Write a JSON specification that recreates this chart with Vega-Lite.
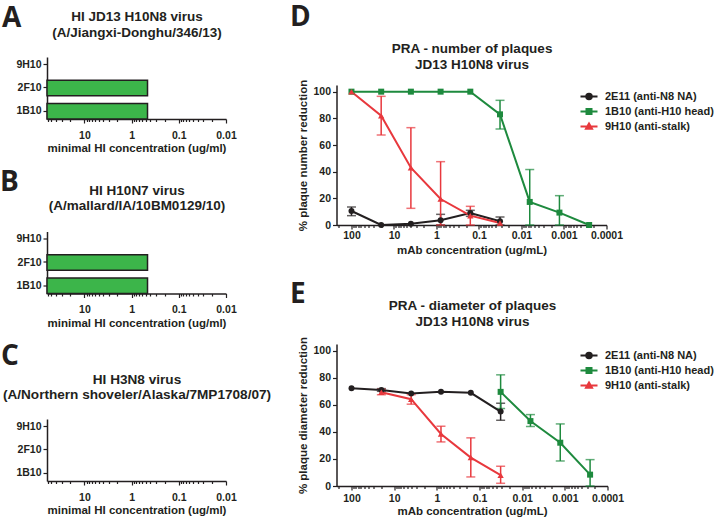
{
  "$schema": "https://vega.github.io/schema/vega-lite/v6.json",
  "background": "white",
  "padding": 0,
  "config": {
    "font": "Liberation Sans",
    "view": {"stroke": null},
    "axis": {"domainColor": "#231F20", "domainWidth": 1.5, "tickColor": "#231F20", "tickWidth": 1.2, "tickSize": 4, "labelColor": "#231F20", "labelFont": "Liberation Sans", "labelFontSize": 10.5, "labelFontWeight": "bold", "titleColor": "#231F20", "titleFont": "Liberation Sans", "titleFontSize": 11.5, "titleFontWeight": "bold", "grid": false, "labelPadding": 2, "labelOverlap": false, "labelFlush": false},
    "title": {"font": "Open Sans", "fontSize": 28, "fontWeight": "bold", "color": "#231F20", "anchor": "start", "frame": "bounds", "baseline": "alphabetic"},
    "legend": {"title": null, "orient": "none", "symbolSize": 100, "labelOffset": 10, "rowPadding": 1, "labelFont": "Liberation Sans", "labelFontSize": 11, "labelFontWeight": "bold", "labelColor": "#231F20", "symbolStrokeWidth": 2}
  },
  "datasets": {
    "spacer": [{}],
    "hiA": [{"mab": "9H10", "minHI": null}, {"mab": "2F10", "minHI": 0.46}, {"mab": "1B10", "minHI": 0.46}],
    "hiB": [{"mab": "9H10", "minHI": null}, {"mab": "2F10", "minHI": 0.46}, {"mab": "1B10", "minHI": 0.46}],
    "hiC": [{"mab": "9H10", "minHI": null}, {"mab": "2F10", "minHI": null}, {"mab": "1B10", "minHI": null}],
    "plaqueNumber": [
      {"mab": "2E11 (anti-N8 NA)", "conc": 100, "mean": 10.5, "lo": 7, "hi": 13.5},
      {"mab": "2E11 (anti-N8 NA)", "conc": 20, "mean": 0, "lo": null, "hi": null},
      {"mab": "2E11 (anti-N8 NA)", "conc": 4, "mean": 1, "lo": null, "hi": null},
      {"mab": "2E11 (anti-N8 NA)", "conc": 0.8, "mean": 3.5, "lo": 0, "hi": 8},
      {"mab": "2E11 (anti-N8 NA)", "conc": 0.16, "mean": 9, "lo": 6.5, "hi": 11},
      {"mab": "2E11 (anti-N8 NA)", "conc": 0.032, "mean": 2.8, "lo": 0, "hi": 6},
      {"mab": "1B10 (anti-H10 head)", "conc": 100, "mean": 100, "lo": null, "hi": null},
      {"mab": "1B10 (anti-H10 head)", "conc": 20, "mean": 100, "lo": null, "hi": null},
      {"mab": "1B10 (anti-H10 head)", "conc": 4, "mean": 100, "lo": null, "hi": null},
      {"mab": "1B10 (anti-H10 head)", "conc": 0.8, "mean": 100, "lo": null, "hi": null},
      {"mab": "1B10 (anti-H10 head)", "conc": 0.16, "mean": 100, "lo": null, "hi": null},
      {"mab": "1B10 (anti-H10 head)", "conc": 0.032, "mean": 83, "lo": 72, "hi": 93.5},
      {"mab": "1B10 (anti-H10 head)", "conc": 0.0064, "mean": 17.3, "lo": 0, "hi": 41.6},
      {"mab": "1B10 (anti-H10 head)", "conc": 0.00128, "mean": 9.3, "lo": 0, "hi": 22},
      {"mab": "1B10 (anti-H10 head)", "conc": 0.000256, "mean": 0, "lo": null, "hi": null},
      {"mab": "9H10 (anti-stalk)", "conc": 100, "mean": 100, "lo": null, "hi": null},
      {"mab": "9H10 (anti-stalk)", "conc": 20, "mean": 82, "lo": 67.5, "hi": 96.5},
      {"mab": "9H10 (anti-stalk)", "conc": 4, "mean": 43, "lo": 12.5, "hi": 73},
      {"mab": "9H10 (anti-stalk)", "conc": 0.8, "mean": 19.5, "lo": 0, "hi": 47.5},
      {"mab": "9H10 (anti-stalk)", "conc": 0.16, "mean": 7, "lo": 0, "hi": 14},
      {"mab": "9H10 (anti-stalk)", "conc": 0.032, "mean": 1.5, "lo": null, "hi": null}
    ],
    "plaqueDiameter": [
      {"mab": "2E11 (anti-N8 NA)", "conc": 100, "mean": 72.3, "lo": null, "hi": null},
      {"mab": "2E11 (anti-N8 NA)", "conc": 20, "mean": 71, "lo": 70, "hi": 72},
      {"mab": "2E11 (anti-N8 NA)", "conc": 4, "mean": 68.4, "lo": null, "hi": null},
      {"mab": "2E11 (anti-N8 NA)", "conc": 0.8, "mean": 69.6, "lo": null, "hi": null},
      {"mab": "2E11 (anti-N8 NA)", "conc": 0.16, "mean": 68.9, "lo": null, "hi": null},
      {"mab": "2E11 (anti-N8 NA)", "conc": 0.032, "mean": 55, "lo": 48.6, "hi": 61.2},
      {"mab": "1B10 (anti-H10 head)", "conc": 0.032, "mean": 69.6, "lo": 57.3, "hi": 82.2},
      {"mab": "1B10 (anti-H10 head)", "conc": 0.0064, "mean": 48, "lo": 44, "hi": 52.8},
      {"mab": "1B10 (anti-H10 head)", "conc": 0.00128, "mean": 32, "lo": 18.5, "hi": 45.9},
      {"mab": "1B10 (anti-H10 head)", "conc": 0.000256, "mean": 8.4, "lo": 0, "hi": 19.5},
      {"mab": "9H10 (anti-stalk)", "conc": 20, "mean": 69.3, "lo": 67.5, "hi": 71.5},
      {"mab": "9H10 (anti-stalk)", "conc": 4, "mean": 64.2, "lo": 60.5, "hi": 67.5},
      {"mab": "9H10 (anti-stalk)", "conc": 0.8, "mean": 38.5, "lo": 32.6, "hi": 44.2},
      {"mab": "9H10 (anti-stalk)", "conc": 0.16, "mean": 21, "lo": 6.7, "hi": 35.6},
      {"mab": "9H10 (anti-stalk)", "conc": 0.032, "mean": 8, "lo": 2, "hi": 14.6}
    ]
  },
  "spacing": 18.5,
  "hconcat": [
    {
      "spacing": 0,
      "vconcat": [
        {"width": 10, "height": 5, "data": {"name": "spacer"}, "mark": {"type": "point", "size": 0, "opacity": 0}, "encoding": {}},
        {
          "spacing": 14.5,
          "vconcat": [
            {
              "width": 179, "height": 62,
              "data": {"name": "hiA"},
              "title": {"text": "A", "offset": -23.8, "dx": -14},
              "resolve": {"axis": {"x": "independent"}},
              "encoding": {"y": {"field": "mab", "type": "nominal", "scale": {"domain": ["9H10", "2F10", "1B10"], "paddingInner": 0.34, "paddingOuter": 0, "align": 0}, "axis": {"title": null, "labelPadding": 2}}},
              "layer": [
                {"mark": {"type": "bar", "fill": "#3CB54A", "stroke": "#231F20", "strokeWidth": 1.5},
                 "encoding": {"x": {"field": "minHI", "type": "quantitative", "scale": {"type": "log", "domain": [0.01, 62], "reverse": true, "nice": false}, "axis": {"title": "minimal HI concentration (ug/ml)", "values": [60,50,40,30,20,10,9,8,7,6,5,4,3,2,1,0.9,0.8,0.7,0.6,0.5,0.4,0.3,0.2,0.1,0.09,0.08,0.07,0.06,0.05,0.04,0.03,0.02,0.01], "format": "~g", "labelExpr": "indexof([100,10,1,0.1,0.01,0.001,0.0001], datum.value) >= 0 ? datum.label : ''", "tickSize": {"condition": {"test": "indexof([100,10,1,0.1,0.01,0.001,0.0001], datum.value) >= 0", "value": 4}, "value": 2.5}, "labelPadding": 7, "titlePadding": 2}}, "x2": {"datum": 62}}},
                {"mark": {"type": "bar", "opacity": 0},
                 "encoding": {"x": {"field": "minHI", "type": "quantitative", "scale": {"type": "log", "domain": [0.01, 62], "reverse": true, "nice": false}, "axis": {"orient": "top", "domain": false, "ticks": false, "labels": false, "title": ["HI JD13 H10N8 virus", "(A/Jiangxi-Donghu/346/13)"], "titleFontSize": 13.5, "titleLineHeight": 15.5, "titlePadding": 18}}, "x2": {"datum": 62}}}
              ]
            },
            {
              "width": 179, "height": 62,
              "data": {"name": "hiB"},
              "title": {"text": "B", "offset": -13.8, "dx": -15.8},
              "resolve": {"axis": {"x": "independent"}},
              "encoding": {"y": {"field": "mab", "type": "nominal", "scale": {"domain": ["9H10", "2F10", "1B10"], "paddingInner": 0.34, "paddingOuter": 0, "align": 0}, "axis": {"title": null, "labelPadding": 2}}},
              "layer": [
                {"mark": {"type": "bar", "fill": "#3CB54A", "stroke": "#231F20", "strokeWidth": 1.5},
                 "encoding": {"x": {"field": "minHI", "type": "quantitative", "scale": {"type": "log", "domain": [0.01, 62], "reverse": true, "nice": false}, "axis": {"title": "minimal HI concentration (ug/ml)", "values": [60,50,40,30,20,10,9,8,7,6,5,4,3,2,1,0.9,0.8,0.7,0.6,0.5,0.4,0.3,0.2,0.1,0.09,0.08,0.07,0.06,0.05,0.04,0.03,0.02,0.01], "format": "~g", "labelExpr": "indexof([100,10,1,0.1,0.01,0.001,0.0001], datum.value) >= 0 ? datum.label : ''", "tickSize": {"condition": {"test": "indexof([100,10,1,0.1,0.01,0.001,0.0001], datum.value) >= 0", "value": 4}, "value": 2.5}, "labelPadding": 7, "titlePadding": 2}}, "x2": {"datum": 62}}},
                {"mark": {"type": "bar", "opacity": 0},
                 "encoding": {"x": {"field": "minHI", "type": "quantitative", "scale": {"type": "log", "domain": [0.01, 62], "reverse": true, "nice": false}, "axis": {"orient": "top", "domain": false, "ticks": false, "labels": false, "title": ["HI H10N7 virus", "(A/mallard/IA/10BM0129/10)"], "titleFontSize": 13.5, "titleLineHeight": 15.5, "titlePadding": 19}}, "x2": {"datum": 62}}}
              ]
            },
            {
              "width": 179, "height": 62,
              "data": {"name": "hiC"},
              "title": {"text": "C", "offset": 1, "dx": -1.3},
              "resolve": {"axis": {"x": "independent"}},
              "encoding": {"y": {"field": "mab", "type": "nominal", "scale": {"domain": ["9H10", "2F10", "1B10"], "paddingInner": 0.34, "paddingOuter": 0, "align": 0}, "axis": {"title": null, "labelPadding": 2}}},
              "layer": [
                {"mark": {"type": "bar", "fill": "#3CB54A", "stroke": "#231F20", "strokeWidth": 1.5},
                 "encoding": {"x": {"field": "minHI", "type": "quantitative", "scale": {"type": "log", "domain": [0.01, 62], "reverse": true, "nice": false}, "axis": {"title": "minimal HI concentration (ug/ml)", "values": [60,50,40,30,20,10,9,8,7,6,5,4,3,2,1,0.9,0.8,0.7,0.6,0.5,0.4,0.3,0.2,0.1,0.09,0.08,0.07,0.06,0.05,0.04,0.03,0.02,0.01], "format": "~g", "labelExpr": "indexof([100,10,1,0.1,0.01,0.001,0.0001], datum.value) >= 0 ? datum.label : ''", "tickSize": {"condition": {"test": "indexof([100,10,1,0.1,0.01,0.001,0.0001], datum.value) >= 0", "value": 4}, "value": 2.5}, "labelPadding": 7, "titlePadding": 2}}, "x2": {"datum": 62}}},
                {"mark": {"type": "bar", "opacity": 0},
                 "encoding": {"x": {"field": "minHI", "type": "quantitative", "scale": {"type": "log", "domain": [0.01, 62], "reverse": true, "nice": false}, "axis": {"orient": "top", "domain": false, "ticks": false, "labels": false, "title": ["HI H3N8 virus", "(A/Northern shoveler/Alaska/7MP1708/07)"], "titleFontSize": 13.6, "titleLineHeight": 15.5, "titlePadding": 17.5}}, "x2": {"datum": 62}}}
              ]
            }
          ]
        }
      ]
    },
    {
      "spacing": 0,
      "vconcat": [
        {"width": 10, "height": 3, "data": {"name": "spacer"}, "mark": {"type": "point", "size": 0, "opacity": 0}, "encoding": {}},
        {
          "spacing": 24,
          "resolve": {"scale": {"color": "independent"}, "legend": {"color": "independent"}},
          "vconcat": [
            {
              "width": 270, "height": 140,
              "data": {"name": "plaqueNumber"},
              "title": {"text": "D", "offset": 10, "dx": -8},
              "resolve": {"axis": {"x": "independent"}},
              "encoding": {
                "color": {"field": "mab", "type": "nominal", "scale": {"domain": ["2E11 (anti-N8 NA)", "1B10 (anti-H10 head)", "9H10 (anti-stalk)"], "range": ["#231F20", "#1E8A3E", "#E8383D"]}, "legend": {"legendX": 246.5, "legendY": 5.5, "encode": {"symbols": {"update": {"shape": {"signal": "datum.value === '2E11 (anti-N8 NA)' ? 'M-1.7,0H1.7M-0.55,0A0.55,0.55,0,1,1,0.55,0A0.55,0.55,0,1,1,-0.55,0Z' : datum.value === '1B10 (anti-H10 head)' ? 'M-1.7,0H1.7M-0.5,-0.5H0.5V0.5H-0.5Z' : 'M-1.7,0H1.7M0,-0.6L0.6,0.45H-0.6Z'"}, "stroke": {"signal": "datum.value === '2E11 (anti-N8 NA)' ? '#231F20' : datum.value === '1B10 (anti-H10 head)' ? '#1E8A3E' : '#E8383D'"}, "fill": {"signal": "datum.value === '2E11 (anti-N8 NA)' ? '#231F20' : datum.value === '1B10 (anti-H10 head)' ? '#1E8A3E' : '#E8383D'"}, "strokeWidth": {"value": 2}, "opacity": {"value": 1}}}}}},
                "y": {"field": "mean", "type": "quantitative", "title": "% plaque number reduction", "scale": {"domain": [0, 105], "nice": false}, "axis": {"values": [0, 20, 40, 60, 80, 100], "titlePadding": 4}}
              },
              "layer": [
                {"transform": [{"filter": "isValid(datum.lo)"}], "mark": {"type": "errorbar", "ticks": {"size": 9}, "thickness": 1.5},
                 "encoding": {"x": {"field": "conc", "type": "quantitative", "scale": {"type": "log", "domain": [0.0001, 225], "reverse": true, "nice": false}, "axis": null}, "y": {"field": "lo", "type": "quantitative", "title": "% plaque number reduction", "scale": {"domain": [0, 105], "nice": false}}, "y2": {"field": "hi"}}},
                {"mark": {"type": "line", "strokeWidth": 2},
                 "encoding": {"x": {"field": "conc", "type": "quantitative", "scale": {"type": "log", "domain": [0.0001, 225], "reverse": true, "nice": false}, "axis": {"title": "mAb concentration (ug/mL)", "values": [200,100,90,80,70,60,50,40,30,20,10,9,8,7,6,5,4,3,2,1,0.9,0.8,0.7,0.6,0.5,0.4,0.3,0.2,0.1,0.09,0.08,0.07,0.06,0.05,0.04,0.03,0.02,0.01,0.009,0.008,0.007,0.006,0.005,0.004,0.003,0.002,0.001,0.0009,0.0008,0.0007,0.0006,0.0005,0.0004,0.0003,0.0002,0.0001], "format": "~g", "labelExpr": "indexof([100,10,1,0.1,0.01,0.001,0.0001], datum.value) >= 0 ? datum.label : ''", "tickSize": {"condition": {"test": "indexof([100,10,1,0.1,0.01,0.001,0.0001], datum.value) >= 0", "value": 4}, "value": 2.5}, "labelPadding": 1.5, "titlePadding": 3}}}},
                {"transform": [{"filter": "datum.mab === '2E11 (anti-N8 NA)'"}], "mark": {"type": "point", "shape": "circle", "filled": true, "size": 36, "opacity": 1},
                 "encoding": {"x": {"field": "conc", "type": "quantitative", "scale": {"type": "log", "domain": [0.0001, 225], "reverse": true, "nice": false}, "axis": {"orient": "top", "domain": false, "ticks": false, "labels": false, "title": ["PRA - number of plaques", "JD13 H10N8 virus"], "titleFontSize": 13.5, "titleLineHeight": 15.5, "titlePadding": 13.7}}}},
                {"transform": [{"filter": "datum.mab === '1B10 (anti-H10 head)'"}], "mark": {"type": "point", "shape": "square", "filled": true, "size": 36, "opacity": 1},
                 "encoding": {"x": {"field": "conc", "type": "quantitative", "scale": {"type": "log", "domain": [0.0001, 225], "reverse": true, "nice": false}, "axis": null}}},
                {"transform": [{"filter": "datum.mab === '9H10 (anti-stalk)'"}], "mark": {"type": "point", "shape": "triangle-up", "filled": true, "size": 40, "opacity": 1},
                 "encoding": {"x": {"field": "conc", "type": "quantitative", "scale": {"type": "log", "domain": [0.0001, 225], "reverse": true, "nice": false}, "axis": null}}}
              ]
            },
            {
              "width": 271, "height": 142,
              "data": {"name": "plaqueDiameter"},
              "title": {"text": "E", "offset": -9.8, "dx": -8},
              "resolve": {"axis": {"x": "independent"}},
              "encoding": {
                "color": {"field": "mab", "type": "nominal", "scale": {"domain": ["2E11 (anti-N8 NA)", "1B10 (anti-H10 head)", "9H10 (anti-stalk)"], "range": ["#231F20", "#1E8A3E", "#E8383D"]}, "legend": {"legendX": 246.5, "legendY": 5.5, "encode": {"symbols": {"update": {"shape": {"signal": "datum.value === '2E11 (anti-N8 NA)' ? 'M-1.7,0H1.7M-0.55,0A0.55,0.55,0,1,1,0.55,0A0.55,0.55,0,1,1,-0.55,0Z' : datum.value === '1B10 (anti-H10 head)' ? 'M-1.7,0H1.7M-0.5,-0.5H0.5V0.5H-0.5Z' : 'M-1.7,0H1.7M0,-0.6L0.6,0.45H-0.6Z'"}, "stroke": {"signal": "datum.value === '2E11 (anti-N8 NA)' ? '#231F20' : datum.value === '1B10 (anti-H10 head)' ? '#1E8A3E' : '#E8383D'"}, "fill": {"signal": "datum.value === '2E11 (anti-N8 NA)' ? '#231F20' : datum.value === '1B10 (anti-H10 head)' ? '#1E8A3E' : '#E8383D'"}, "strokeWidth": {"value": 2}, "opacity": {"value": 1}}}}}},
                "y": {"field": "mean", "type": "quantitative", "title": "% plaque diameter reduction", "scale": {"domain": [0, 105], "nice": false}, "axis": {"values": [0, 20, 40, 60, 80, 100], "titlePadding": 4}}
              },
              "layer": [
                {"transform": [{"filter": "isValid(datum.lo)"}], "mark": {"type": "errorbar", "ticks": {"size": 9}, "thickness": 1.5},
                 "encoding": {"x": {"field": "conc", "type": "quantitative", "scale": {"type": "log", "domain": [0.0001, 225], "reverse": true, "nice": false}, "axis": null}, "y": {"field": "lo", "type": "quantitative", "title": "% plaque diameter reduction", "scale": {"domain": [0, 105], "nice": false}}, "y2": {"field": "hi"}}},
                {"mark": {"type": "line", "strokeWidth": 2},
                 "encoding": {"x": {"field": "conc", "type": "quantitative", "scale": {"type": "log", "domain": [0.0001, 225], "reverse": true, "nice": false}, "axis": {"title": "mAb concentration (ug/mL)", "values": [200,100,90,80,70,60,50,40,30,20,10,9,8,7,6,5,4,3,2,1,0.9,0.8,0.7,0.6,0.5,0.4,0.3,0.2,0.1,0.09,0.08,0.07,0.06,0.05,0.04,0.03,0.02,0.01,0.009,0.008,0.007,0.006,0.005,0.004,0.003,0.002,0.001,0.0009,0.0008,0.0007,0.0006,0.0005,0.0004,0.0003,0.0002,0.0001], "format": "~g", "labelExpr": "indexof([100,10,1,0.1,0.01,0.001,0.0001], datum.value) >= 0 ? datum.label : ''", "tickSize": {"condition": {"test": "indexof([100,10,1,0.1,0.01,0.001,0.0001], datum.value) >= 0", "value": 4}, "value": 2.5}, "labelPadding": 3, "titlePadding": 1.5}}}},
                {"transform": [{"filter": "datum.mab === '2E11 (anti-N8 NA)'"}], "mark": {"type": "point", "shape": "circle", "filled": true, "size": 36, "opacity": 1},
                 "encoding": {"x": {"field": "conc", "type": "quantitative", "scale": {"type": "log", "domain": [0.0001, 225], "reverse": true, "nice": false}, "axis": {"orient": "top", "domain": false, "ticks": false, "labels": false, "title": ["PRA - diameter of plaques", "JD13 H10N8 virus"], "titleFontSize": 13.5, "titleLineHeight": 15.5, "titlePadding": 15.6}}}},
                {"transform": [{"filter": "datum.mab === '1B10 (anti-H10 head)'"}], "mark": {"type": "point", "shape": "square", "filled": true, "size": 36, "opacity": 1},
                 "encoding": {"x": {"field": "conc", "type": "quantitative", "scale": {"type": "log", "domain": [0.0001, 225], "reverse": true, "nice": false}, "axis": null}}},
                {"transform": [{"filter": "datum.mab === '9H10 (anti-stalk)'"}], "mark": {"type": "point", "shape": "triangle-up", "filled": true, "size": 40, "opacity": 1},
                 "encoding": {"x": {"field": "conc", "type": "quantitative", "scale": {"type": "log", "domain": [0.0001, 225], "reverse": true, "nice": false}, "axis": null}}}
              ]
            }
          ]
        }
      ]
    }
  ]
}
